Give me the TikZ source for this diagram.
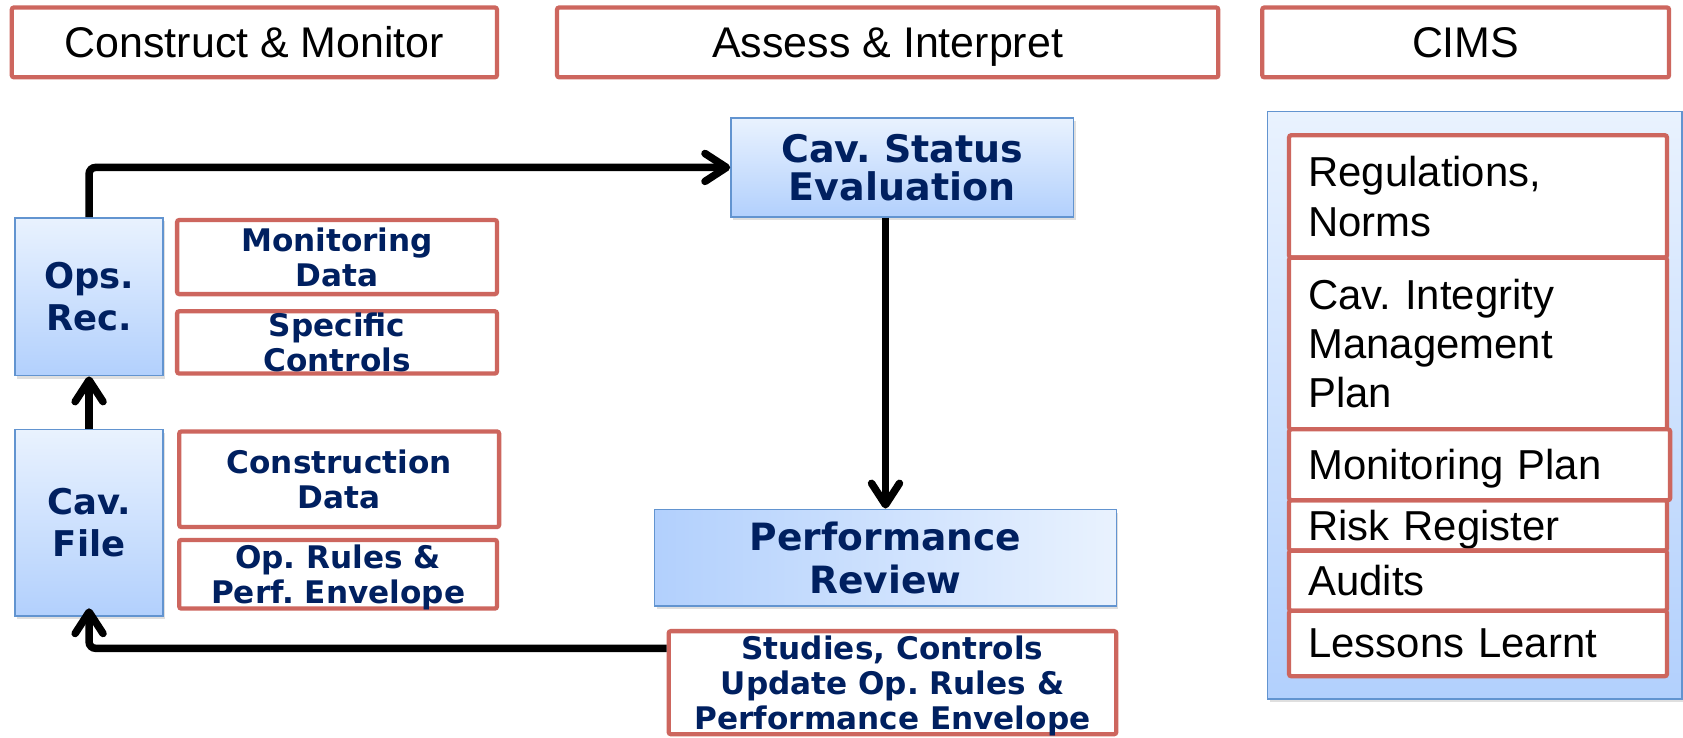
\documentclass[tikz,border=0pt]{standalone}
\usepackage{fontspec}
\setmainfont{Liberation Sans}
\newfontfamily\vbf{DejaVu Sans}
\usetikzlibrary{arrows.meta,shadows}
\frenchspacing

\definecolor{redb}{RGB}{205,102,94}
\definecolor{navy}{RGB}{0,32,96}
\definecolor{blueb}{RGB}{98,148,208}
\definecolor{bluetop}{RGB}{233,242,254}
\definecolor{bluebot}{RGB}{178,208,253}

\tikzset{
  nodep/.style={text depth=0pt},
  redbox/.style={draw=redb, line width=2pt, fill=white, rounded corners=1pt, inner sep=0pt, align=center},
  hdr/.style={redbox, nodep, minimum height=32.5pt, font=\fontsize{20}{24}\selectfont},
  smallbox/.style={redbox, nodep, text=navy, font=\vbf\bfseries\fontsize{14.5}{16.5}\selectfont},
  bluebase/.style={draw=blueb, line width=0.7pt,
    align=center, text=navy, inner sep=0pt,
    drop shadow={shadow xshift=1pt, shadow yshift=-1.5pt, opacity=0.25}},
  bluebox/.style={bluebase, top color=bluetop, bottom color=bluebot},
  blueboxh/.style={bluebase, left color=bluebot, right color=bluetop},
  cimsitem/.style={redbox, align=left, inner xsep=9pt, inner ysep=0pt, text width=158pt,
    minimum width=176pt, font=\fontsize{19.5}{23}\selectfont},
  arr/.style={line width=3.5pt, -{Straight Barb[length=10pt,width=13pt,round]}, rounded corners=3pt},
}

\begin{document}
\begin{tikzpicture}[x=0.5pt,y=-0.5pt]
\useasboundingbox (0,0) rectangle (1568,687);
\fill[white] (0,0) rectangle (1568,687);

% headers
\node[hdr, minimum width=226pt] (h1) at (237,39.5) {Construct \& Monitor};
\node[hdr, minimum width=308pt] (h2) at (827,39.5) {Assess \& Interpret};
\node[hdr, minimum width=189.5pt] (h3) at (1365.5,39.5) {CIMS};

% left column
\node[bluebox, minimum width=69pt, minimum height=73.5pt,
      font=\vbf\bfseries\fontsize{16.5}{19.5}\selectfont] (ops) at (83,276.5) {Ops.\\Rec.};
\node[smallbox, minimum width=149pt, minimum height=34.5pt] (mon) at (314,239.5) {Monitoring\\Data};
\node[smallbox, minimum width=149pt, minimum height=29pt] (spec) at (314,319) {Specific\\Controls};

\node[bluebox, minimum width=69pt, minimum height=87pt,
      font=\vbf\bfseries\fontsize{16.5}{19.5}\selectfont] (cav) at (83,487) {Cav.\\File};
\node[smallbox, minimum width=149pt, minimum height=44.5pt] (con) at (316,446.5) {Construction\\Data};
\node[smallbox, minimum width=148pt, minimum height=32pt] (opr) at (315,535) {Op. Rules \&\\Perf. Envelope};

% middle column
\node[bluebox, minimum width=159.5pt, minimum height=46pt,
      font=\vbf\bfseries\fontsize{17.7}{17.5}\selectfont] (cse) at (840.5,156) {Cav. Status\\Evaluation};
\node[blueboxh, minimum width=215pt, minimum height=45pt,
      font=\vbf\bfseries\fontsize{17.5}{20}\selectfont] (pr) at (825,519.5) {Performance\\Review};
\node[smallbox, minimum width=208.5pt, minimum height=48pt] (st) at (831.5,636)
      {Studies, Controls\\Update Op. Rules \&\\Performance Envelope};

% CIMS panel
\node[bluebox, minimum width=193pt, minimum height=273.5pt] (panel) at (1374,377.5) {};
\node[cimsitem, minimum height=57pt] (regs) at (1377,183) {Regulations,\\Norms};
\node[cimsitem, minimum height=80pt] (cimp) at (1377,320) {Cav. Integrity\\Management\\Plan};
\node[cimsitem, nodep, minimum height=23.5pt] (risk) at (1377,489.5) {Risk Register};
\node[cimsitem, nodep, minimum height=28pt] (aud) at (1377,541) {Audits};
\node[cimsitem, nodep, minimum height=30.5pt] (les) at (1377,599.5) {Lessons Learnt};
\node[cimsitem, nodep, text width=159.5pt, minimum width=177.5pt, minimum height=33pt] (mplan) at (1378.5,433) {Monitoring Plan};

% connectors
\draw[arr] (ops.north) |- (cse.west);
\draw[arr] (cav.north) -- (ops.south);
\draw[arr] (cse.south -| pr.north) -- (pr.north);
\draw[arr] ([yshift=-9pt]st.north west) -| ([yshift=4pt]cav.south);
\end{tikzpicture}
\end{document}
